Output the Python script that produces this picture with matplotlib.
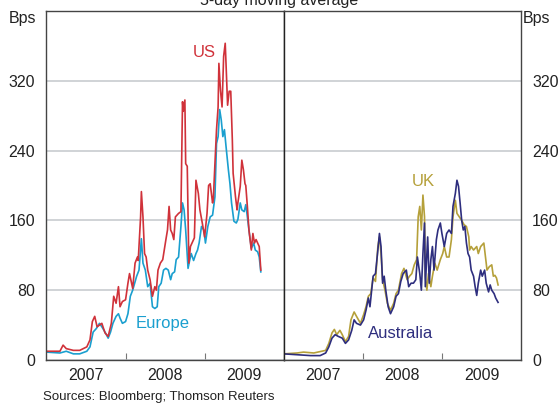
import matplotlib
matplotlib.use("Agg")
import matplotlib.pyplot as plt
import numpy as np

plt.rcParams['font.family'] = ['Liberation Sans', 'DejaVu Sans']

# Fechas en anos decimales, valores en puntos basicos
us_t = [2007.00, 2007.17, 2007.21, 2007.25, 2007.34, 2007.42, 2007.51, 2007.55, 2007.58, 2007.61,
        2007.64, 2007.70, 2007.74, 2007.78, 2007.82, 2007.85, 2007.88, 2007.91, 2007.93, 2007.96,
        2008.00, 2008.03, 2008.05, 2008.09, 2008.12, 2008.15, 2008.16, 2008.19, 2008.20, 2008.22,
        2008.24, 2008.26, 2008.28, 2008.31, 2008.34, 2008.37, 2008.39, 2008.41, 2008.44, 2008.47,
        2008.51, 2008.53, 2008.55, 2008.57, 2008.59, 2008.61, 2008.63, 2008.65, 2008.67, 2008.70,
        2008.72, 2008.73, 2008.75, 2008.76, 2008.78, 2008.80, 2008.82, 2008.84, 2008.87, 2008.89,
        2008.92, 2008.94, 2008.97, 2009.00, 2009.03, 2009.05, 2009.07, 2009.10, 2009.11, 2009.13,
        2009.15, 2009.17, 2009.18, 2009.20, 2009.22, 2009.24, 2009.26, 2009.27, 2009.29, 2009.31,
        2009.33, 2009.35, 2009.36, 2009.39, 2009.41, 2009.42, 2009.45, 2009.47, 2009.49, 2009.51,
        2009.52, 2009.54, 2009.56, 2009.59, 2009.61, 2009.63, 2009.65, 2009.67, 2009.69, 2009.71]
us_v = [10, 10, 17, 13, 11, 11, 15, 23, 44, 50,
        38, 42, 31, 27, 42, 73, 65, 84, 61, 67,
        69, 88, 99, 82, 111, 118, 114, 164, 193, 164,
        122, 118, 103, 92, 73, 84, 80, 103, 111, 115,
        138, 149, 176, 149, 145, 138, 164, 166, 168, 170,
        296, 285, 298, 225, 222, 111, 130, 134, 140, 206,
        191, 172, 157, 141, 168, 200, 202, 180, 185, 225,
        264, 290, 340, 309, 290, 348, 363, 340, 292, 308,
        308, 252, 214, 187, 172, 180, 199, 229, 218, 202,
        200, 176, 149, 126, 145, 134, 138, 134, 130, 103]

eu_t = [2007.00, 2007.17, 2007.25, 2007.34, 2007.42, 2007.51, 2007.55, 2007.59, 2007.63, 2007.67,
        2007.70, 2007.74, 2007.78, 2007.81, 2007.84, 2007.88, 2007.91, 2007.93, 2007.96, 2008.00,
        2008.03, 2008.06, 2008.09, 2008.14, 2008.17, 2008.20, 2008.22, 2008.25, 2008.28, 2008.31,
        2008.34, 2008.37, 2008.40, 2008.42, 2008.45, 2008.48, 2008.51, 2008.54, 2008.57, 2008.59,
        2008.62, 2008.64, 2008.67, 2008.70, 2008.72, 2008.74, 2008.76, 2008.79, 2008.81, 2008.83,
        2008.86, 2008.89, 2008.91, 2008.93, 2008.96, 2008.99, 2009.01, 2009.04, 2009.07, 2009.10,
        2009.13, 2009.15, 2009.17, 2009.19, 2009.21, 2009.23, 2009.25, 2009.27, 2009.30, 2009.32,
        2009.34, 2009.37, 2009.40, 2009.42, 2009.45, 2009.47, 2009.50, 2009.52, 2009.54, 2009.56,
        2009.59, 2009.62, 2009.64, 2009.67, 2009.69, 2009.71]
eu_v = [9, 8, 10, 7, 7, 10, 15, 32, 36, 42,
        38, 32, 25, 32, 42, 50, 53, 48, 42, 44,
        53, 73, 80, 96, 103, 139, 111, 103, 84, 88,
        61, 59, 61, 84, 88, 103, 105, 103, 92, 99,
        101, 115, 118, 153, 180, 172, 149, 105, 114, 122,
        114, 122, 126, 134, 153, 149, 134, 153, 164, 166,
        187, 248, 256, 287, 275, 256, 264, 245, 218, 202,
        180, 159, 157, 161, 180, 172, 170, 178, 164, 149,
        128, 134, 126, 124, 118, 101]

au_t = [2007.00, 2007.17, 2007.34, 2007.46, 2007.53, 2007.57, 2007.61, 2007.65, 2007.69, 2007.74,
        2007.78, 2007.82, 2007.86, 2007.89, 2007.92, 2007.97, 2008.01, 2008.04, 2008.07, 2008.09,
        2008.13, 2008.16, 2008.19, 2008.21, 2008.23, 2008.25, 2008.27, 2008.29, 2008.32, 2008.35,
        2008.39, 2008.42, 2008.45, 2008.48, 2008.51, 2008.55, 2008.58, 2008.61, 2008.64, 2008.67,
        2008.69, 2008.72, 2008.74, 2008.76, 2008.78, 2008.79, 2008.82, 2008.84, 2008.86, 2008.88,
        2008.90, 2008.93, 2008.95, 2008.98, 2009.00, 2009.03, 2009.06, 2009.09, 2009.12, 2009.14,
        2009.17, 2009.19, 2009.21, 2009.23, 2009.25, 2009.27, 2009.29, 2009.31, 2009.33, 2009.35,
        2009.37, 2009.40, 2009.42, 2009.44, 2009.46, 2009.49, 2009.51, 2009.54, 2009.56, 2009.59,
        2009.61, 2009.63, 2009.66, 2009.68, 2009.71]
au_v = [7, 6, 5, 5, 8, 15, 25, 29, 27, 25,
        19, 23, 34, 46, 42, 40, 46, 57, 71, 61,
        96, 99, 126, 145, 130, 88, 96, 80, 61, 53,
        61, 73, 76, 90, 99, 103, 84, 88, 88, 92,
        118, 99, 80, 122, 157, 84, 141, 88, 115, 130,
        103, 138, 149, 157, 145, 130, 145, 149, 145, 176,
        191, 206, 199, 180, 160, 149, 153, 134, 122, 118,
        103, 96, 84, 74, 88, 103, 96, 103, 88, 78,
        86, 80, 76, 71, 66]

uk_t = [2007.00, 2007.17, 2007.25, 2007.38, 2007.48, 2007.53, 2007.57, 2007.61, 2007.64, 2007.67,
        2007.71, 2007.74, 2007.78, 2007.82, 2007.85, 2007.89, 2007.92, 2007.97, 2008.01, 2008.04,
        2008.07, 2008.10, 2008.13, 2008.16, 2008.19, 2008.21, 2008.23, 2008.25, 2008.28, 2008.31,
        2008.35, 2008.39, 2008.42, 2008.45, 2008.49, 2008.52, 2008.56, 2008.59, 2008.62, 2008.65,
        2008.68, 2008.70, 2008.72, 2008.74, 2008.76, 2008.78, 2008.79, 2008.81, 2008.83, 2008.86,
        2008.88, 2008.91, 2008.94, 2008.98, 2009.01, 2009.03, 2009.06, 2009.09, 2009.12, 2009.14,
        2009.17, 2009.19, 2009.22, 2009.25, 2009.28, 2009.31, 2009.34, 2009.35, 2009.37, 2009.40,
        2009.44, 2009.46, 2009.49, 2009.51, 2009.53, 2009.56, 2009.57, 2009.60, 2009.63, 2009.65,
        2009.67, 2009.69, 2009.71]
uk_v = [7, 8, 9, 8, 10, 11, 19, 31, 35, 29,
        34, 29, 21, 27, 46, 55, 50, 42, 52, 61,
        73, 76, 94, 90, 130, 141, 122, 92, 80, 65,
        57, 65, 76, 80, 99, 105, 92, 96, 99, 109,
        115, 164, 176, 149, 189, 164, 96, 80, 99, 84,
        96, 111, 103, 115, 122, 130, 118, 118, 138, 164,
        183, 168, 164, 160, 155, 153, 141, 126, 130, 126,
        130, 122, 130, 132, 134, 111, 103, 107, 109, 96,
        97, 94, 86]

years = [2007, 2008, 2009]
yticks = [0, 80, 160, 240, 320]

c_us = '#d0323a'
c_eu = '#1a9fcf'
c_uk = '#b5a03a'
c_au = '#2e2e7e'

fig, (ax1, ax2) = plt.subplots(1, 2, figsize=(5.58, 4.04), dpi=100, sharey=True)
fig.subplots_adjust(left=0.0833, right=0.9337, bottom=0.109, top=0.9728, wspace=0)

ax1.plot(eu_t, eu_v, color=c_eu, lw=1.2)
ax1.plot(us_t, us_v, color=c_us, lw=1.2)
ax2.plot(uk_t, uk_v, color=c_uk, lw=1.2)
ax2.plot(au_t, au_v, color=c_au, lw=1.2)

for ax in (ax1, ax2):
    ax.set_xlim(2007, 2010)
    ax.set_ylim(0, 400)
    ax.set_yticks(yticks)
    ax.grid(axis='y', color='#c4c8cc', lw=1.1)
    ax.set_axisbelow(True)
    ax.set_xticks([2008, 2009])
    ax.set_xticklabels([])
    ax.set_xticks([y + 0.5 for y in years], minor=True)
    ax.set_xticklabels([str(y) for y in years], minor=True, fontsize=11.5, color='#222')
    ax.tick_params(axis='x', which='major', direction='in', length=5, color='#777')
    ax.tick_params(axis='x', which='minor', length=0, pad=6)
    ax.tick_params(axis='y', length=0, labelsize=11.5, labelcolor='#222')
    for s in ax.spines.values():
        s.set_color('#444')
        s.set_linewidth(1.0)

ax1.tick_params(axis='y', pad=8)
ax2.tick_params(axis='y', left=False, labelleft=False, right=False, labelright=True, pad=8)
ax1.spines['right'].set_color('#222')
ax2.spines['left'].set_color('#222')

ax1.text(2009.0, 352, 'US', color=c_us, fontsize=12, ha='center', va='center')
ax1.text(2008.47, 42, 'Europe', color=c_eu, fontsize=12, ha='center', va='center')
ax2.text(2008.77, 205, 'UK', color=c_uk, fontsize=12, ha='center', va='center')
ax2.text(2008.48, 30, 'Australia', color=c_au, fontsize=12, ha='center', va='center')

fig.text(0.5, 1.0, '5-day moving average', ha='center', va='center', fontsize=11.5, color='#222')
fig.text(0.04, 0.955, 'Bps', ha='center', va='center', fontsize=11.5, color='#222')
fig.text(0.962, 0.955, 'Bps', ha='center', va='center', fontsize=11.5, color='#222')
fig.text(0.077, 0.018, 'Sources: Bloomberg; Thomson Reuters', ha='left', va='center', fontsize=9.5, color='#222')

fig.savefig('out.png', dpi=100)
